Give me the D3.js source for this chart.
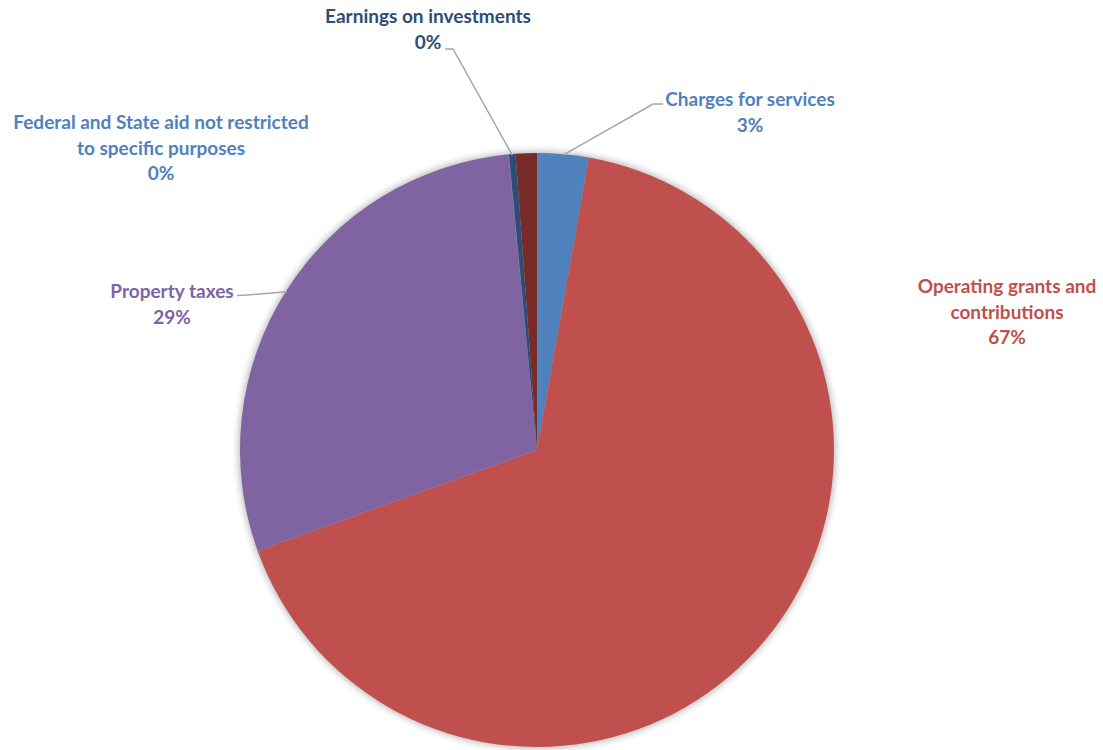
<!DOCTYPE html>
<html>
<head>
<meta charset="utf-8">
<script src="https://cdn.jsdelivr.net/npm/d3@7"></script>
<style>
  html, body { margin: 0; padding: 0; background: #ffffff; }
  svg { display: block; }
  .lbl { font-family: Lato, "Open Sans", sans-serif; font-weight: 700; font-size: 19px; }
</style>
</head>
<body>
<svg id="chart" width="1103" height="750"></svg>
<script>
// Revenue sources, clockwise from 12 o'clock (percent of total)
const categories = [
  "Charges for services",
  "Operating grants and contributions",
  "Property taxes",
  "Federal and State aid not restricted to specific purposes",
  "Earnings on investments",
  "Other"
];
const shares = [2.8, 66.7, 29.0, 0.02, 0.36, 1.15];
const sliceColors = ["#4F81BD", "#C0504D", "#8064A2", "#4F81BD", "#2C4D75", "#772C2A"];
const labelColors = ["#4F81BD", "#C0504D", "#8064A2", "#4F81BD", "#2C4D75", "#772C2A"];
// Label text lines per slice (empty = no label shown)
const labelLines = [
  ["Charges for services"],
  ["Operating grants and", "contributions"],
  ["Property taxes"],
  ["Federal and State aid not restricted", "to specific purposes"],
  ["Earnings on investments"],
  []
];
// Label anchor (centre x, first baseline y) and leader line points
const labelPos = [
  { x: 750, y: 106, leader: [[663, 104], [653, 104]] },
  { x: 1007, y: 293, leader: null },
  { x: 172, y: 298, leader: [[237, 295.5], [247, 295]] },
  { x: 161, y: 129, leader: null },
  { x: 428, y: 23, leader: [[445, 49], [453, 49]] },
  null
];

const svg = d3.select("#chart");
const cx = 537, cy = 450, R = 297;

const defs = svg.append("defs");
const f = defs.append("filter").attr("id", "pieShadow")
  .attr("x", "-10%").attr("y", "-10%").attr("width", "120%").attr("height", "120%");
f.append("feGaussianBlur").attr("stdDeviation", 3.5);

const g = svg.append("g").attr("transform", `translate(${cx},${cy})`);

// soft shadow behind the pie
g.append("circle").attr("r", R + 1.5)
  .attr("fill", "#000").attr("opacity", 0.28)
  .attr("filter", "url(#pieShadow)");

const pie = d3.pie().sort(null).value(d => d.v).startAngle(0).endAngle(2 * Math.PI);
const arc = d3.arc().innerRadius(0).outerRadius(R);
const data = categories.map((c, i) => ({ c, v: shares[i], i }));
const arcs = pie(data);

g.selectAll("path.slice").data(arcs).enter().append("path")
  .attr("class", "slice")
  .attr("d", arc)
  .attr("fill", d => sliceColors[d.data.i]);

const total = d3.sum(shares);
const pct = v => Math.round(v / total * 100) + "%";

// leader lines: from label end to slice's outer edge midpoint
arcs.forEach(a => {
  const p = labelPos[a.data.i];
  if (!p || !p.leader) return;
  const mid = (a.startAngle + a.endAngle) / 2;
  const edge = [cx + Math.sin(mid) * (R - 1), cy - Math.cos(mid) * (R - 1)];
  const pts = p.leader.concat([edge]);
  svg.append("path")
    .attr("d", d3.line()(pts))
    .attr("fill", "none")
    .attr("stroke", "#A6A6A6")
    .attr("stroke-width", 1.5);
});

// labels
arcs.forEach(a => {
  const i = a.data.i;
  const p = labelPos[i];
  if (!p || labelLines[i].length === 0) return;
  const lines = labelLines[i].concat([pct(shares[i])]);
  const t = svg.append("text").attr("class", "lbl")
    .attr("text-anchor", "middle")
    .attr("fill", labelColors[i]);
  lines.forEach((ln, k) => {
    t.append("tspan").attr("x", p.x).attr("y", p.y + k * 25.5).text(ln);
  });
});
</script>
</body>
</html>
